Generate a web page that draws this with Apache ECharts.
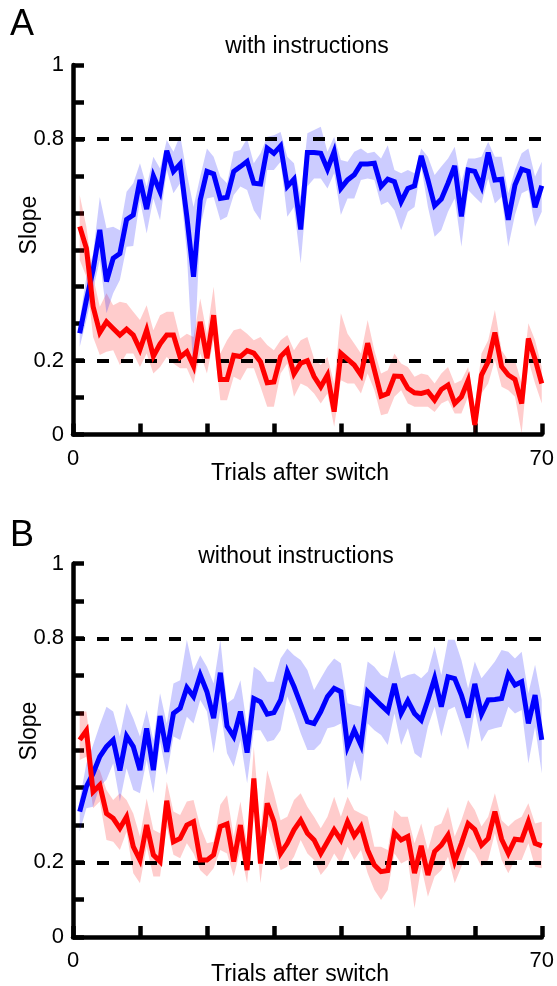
<!DOCTYPE html>
<html>
<head>
<meta charset="utf-8">
<script src="https://cdn.jsdelivr.net/npm/echarts@6/dist/echarts.min.js"></script>
<style>
  html, body { margin: 0; padding: 0; background: #fff; }
  #chart { width: 557px; height: 986px; }
</style>
</head>
<body>
<div id="chart"></div>
<script>
// trial numbers after the switch
const trials = Array.from({ length: 70 }, (_, i) => i + 1);

// panel A, with instructions
const blueWithMean = [0.274,0.364,0.445,0.554,0.414,0.477,0.490,0.582,0.594,0.689,0.610,0.700,0.657,0.768,0.712,0.732,0.590,0.427,0.635,0.712,0.705,0.639,0.642,0.712,0.725,0.739,0.680,0.678,0.775,0.761,0.781,0.671,0.691,0.555,0.763,
  0.763,0.761,0.718,0.766,0.666,0.689,0.703,0.732,0.732,0.734,0.671,0.691,0.684,0.630,0.666,0.673,0.754,0.689,0.619,0.637,0.680,0.727,0.590,0.716,0.712,0.671,0.763,0.689,0.691,0.581,0.675,0.718,0.712,0.615,0.673];
const blueWithUpper = [0.310,0.427,0.490,0.643,0.558,0.562,0.553,0.657,0.680,0.734,0.671,0.752,0.720,0.797,0.765,0.810,0.707,0.616,0.698,0.774,0.752,0.698,0.680,0.765,0.770,0.801,0.734,0.761,0.806,0.810,0.819,0.752,0.734,0.643,0.815,
  0.824,0.833,0.765,0.806,0.743,0.738,0.765,0.774,0.761,0.765,0.747,0.783,0.716,0.707,0.716,0.707,0.774,0.752,0.702,0.725,0.747,0.779,0.684,0.747,0.747,0.752,0.792,0.752,0.752,0.653,0.716,0.761,0.774,0.698,0.738];
const blueWithLower = [0.237,0.310,0.391,0.472,0.328,0.382,0.418,0.508,0.510,0.634,0.544,0.639,0.580,0.716,0.653,0.680,0.490,0.156,0.562,0.639,0.643,0.580,0.589,0.648,0.671,0.662,0.607,0.580,0.716,0.716,0.738,0.589,0.616,0.463,0.671,
  0.693,0.693,0.666,0.707,0.594,0.639,0.639,0.689,0.693,0.689,0.621,0.630,0.607,0.553,0.603,0.616,0.725,0.616,0.535,0.553,0.603,0.639,0.508,0.662,0.643,0.625,0.693,0.625,0.643,0.508,0.594,0.653,0.662,0.562,0.603];
const redWithMean = [0.563,0.504,0.346,0.276,0.305,0.287,0.269,0.285,0.269,0.230,0.283,0.212,0.245,0.269,0.269,0.209,0.224,0.185,0.305,0.206,0.323,0.149,0.149,0.214,0.211,0.227,0.220,0.197,0.140,0.142,0.211,0.229,0.164,0.193,0.200,
  0.157,0.129,0.161,0.062,0.220,0.204,0.188,0.161,0.247,0.175,0.104,0.111,0.158,0.157,0.125,0.113,0.111,0.116,0.093,0.122,0.134,0.084,0.102,0.146,0.026,0.161,0.197,0.276,0.184,0.161,0.149,0.084,0.260,0.204,0.138];
const redWithUpper = [0.648,0.562,0.427,0.346,0.382,0.350,0.359,0.355,0.332,0.310,0.350,0.282,0.323,0.332,0.332,0.260,0.273,0.264,0.368,0.273,0.400,0.219,0.255,0.282,0.287,0.273,0.255,0.264,0.242,0.228,0.255,0.269,0.228,0.255,0.264,
  0.206,0.188,0.210,0.138,0.328,0.273,0.246,0.219,0.310,0.228,0.165,0.174,0.219,0.192,0.183,0.156,0.165,0.161,0.138,0.165,0.183,0.138,0.147,0.183,0.075,0.219,0.255,0.337,0.228,0.201,0.201,0.138,0.301,0.255,0.183];
const redWithLower = [0.472,0.427,0.264,0.215,0.224,0.228,0.188,0.219,0.219,0.183,0.219,0.165,0.183,0.210,0.192,0.179,0.179,0.138,0.219,0.165,0.255,0.093,0.093,0.156,0.147,0.179,0.179,0.129,0.075,0.075,0.165,0.192,0.102,0.138,0.129,
  0.111,0.084,0.111,0.021,0.147,0.138,0.138,0.111,0.165,0.120,0.052,0.057,0.102,0.120,0.084,0.075,0.075,0.075,0.061,0.084,0.093,0.057,0.057,0.102,0.000,0.111,0.138,0.201,0.129,0.120,0.102,0.003,0.201,0.138,0.084];

// panel B, without instructions
const blueWithoutMean = [0.336,0.403,0.438,0.483,0.510,0.528,0.446,0.538,0.510,0.447,0.559,0.447,0.592,0.496,0.599,0.613,0.668,0.644,0.702,0.657,0.586,0.708,0.565,0.537,0.604,0.494,0.639,0.630,0.597,0.601,0.635,0.711,0.671,0.624,0.577,
  0.572,0.604,0.644,0.666,0.657,0.510,0.554,0.514,0.657,0.639,0.621,0.604,0.678,0.599,0.633,0.599,0.581,0.635,0.693,0.617,0.697,0.692,0.648,0.588,0.678,0.597,0.635,0.636,0.639,0.704,0.675,0.684,0.572,0.648,0.528];
const blueWithoutUpper = [0.367,0.465,0.514,0.568,0.617,0.604,0.537,0.626,0.586,0.537,0.608,0.528,0.653,0.572,0.679,0.688,0.796,0.715,0.755,0.724,0.679,0.796,0.626,0.639,0.688,0.563,0.724,0.711,0.684,0.684,0.746,0.773,0.755,0.742,0.715,
  0.662,0.693,0.724,0.746,0.733,0.626,0.621,0.617,0.738,0.724,0.702,0.693,0.769,0.693,0.702,0.706,0.693,0.711,0.778,0.702,0.796,0.796,0.742,0.666,0.738,0.693,0.715,0.738,0.769,0.764,0.746,0.764,0.653,0.729,0.635];
const blueWithoutLower = [0.282,0.345,0.349,0.403,0.421,0.465,0.363,0.452,0.394,0.385,0.474,0.385,0.523,0.434,0.537,0.528,0.590,0.572,0.635,0.604,0.492,0.608,0.492,0.456,0.528,0.412,0.554,0.554,0.523,0.528,0.554,0.644,0.599,0.546,0.501,
  0.501,0.519,0.559,0.563,0.572,0.394,0.474,0.416,0.572,0.554,0.541,0.514,0.599,0.514,0.559,0.492,0.479,0.563,0.617,0.537,0.608,0.617,0.563,0.501,0.608,0.523,0.554,0.559,0.563,0.617,0.599,0.608,0.465,0.563,0.438];
const redWithoutMean = [0.528,0.553,0.389,0.407,0.331,0.318,0.291,0.322,0.242,0.206,0.300,0.220,0.202,0.365,0.255,0.264,0.300,0.309,0.206,0.206,0.220,0.296,0.303,0.202,0.300,0.179,0.425,0.197,0.358,0.309,0.224,0.251,0.287,0.313,0.278,
  0.260,0.224,0.255,0.287,0.260,0.309,0.271,0.296,0.233,0.193,0.175,0.178,0.279,0.260,0.269,0.171,0.244,0.166,0.229,0.246,0.273,0.202,0.251,0.304,0.288,0.246,0.264,0.336,0.262,0.224,0.262,0.260,0.309,0.251,0.244];
const redWithoutUpper = [0.604,0.604,0.461,0.447,0.394,0.367,0.385,0.367,0.331,0.269,0.371,0.287,0.278,0.416,0.336,0.327,0.363,0.367,0.296,0.251,0.255,0.354,0.380,0.269,0.363,0.251,0.510,0.287,0.447,0.385,0.313,0.322,0.367,0.385,0.349,
  0.322,0.291,0.322,0.376,0.322,0.376,0.340,0.331,0.322,0.242,0.242,0.233,0.340,0.322,0.322,0.251,0.304,0.233,0.296,0.304,0.349,0.269,0.313,0.367,0.340,0.296,0.322,0.385,0.313,0.296,0.313,0.322,0.358,0.304,0.309];
const redWithoutLower = [0.474,0.483,0.345,0.363,0.260,0.255,0.233,0.282,0.171,0.144,0.242,0.162,0.162,0.296,0.220,0.211,0.251,0.224,0.179,0.162,0.184,0.233,0.224,0.162,0.233,0.144,0.340,0.144,0.296,0.242,0.179,0.188,0.215,0.260,0.224,
  0.206,0.166,0.188,0.224,0.197,0.242,0.206,0.233,0.171,0.126,0.099,0.126,0.224,0.197,0.206,0.077,0.188,0.108,0.162,0.179,0.215,0.144,0.188,0.242,0.224,0.188,0.206,0.278,0.206,0.171,0.206,0.206,0.251,0.188,0.184];

const referenceLevels = [0.8, 0.2];
const yLabelShown = { 0: '0', 2: '0.2', 8: '0.8', 10: '1' };

const FONT = '"Liberation Sans", Arial, sans-serif';
const BLUE = '#0000ff';
const RED = '#ff0000';

const chart = echarts.init(document.getElementById('chart'), null, { renderer: 'canvas' });

const pairs = (vals) => vals.map((v, i) => [trials[i], v]);

const xAxisFor = (idx) => ({
  type: 'value',
  gridIndex: idx,
  min: 0,
  max: 70,
  interval: 10,
  axisLine: { lineStyle: { color: '#000', width: 4.5 } },
  axisTick: { inside: true, length: 11, lineStyle: { color: '#000', width: 4.5 } },
  axisLabel: {
    margin: 13,
    color: '#000',
    fontFamily: FONT,
    fontSize: 22,
    formatter: (v) => (v === 0 || v === 70 ? String(v) : ''),
  },
  splitLine: { show: false },
});

const yAxisFor = (idx) => ({
  type: 'value',
  gridIndex: idx,
  min: 0,
  max: 1,
  interval: 0.1,
  axisLine: { lineStyle: { color: '#000', width: 4.5 } },
  axisTick: { inside: true, length: 11, lineStyle: { color: '#000', width: 4.5 } },
  axisLabel: {
    margin: 9,
    color: '#000',
    fontFamily: FONT,
    fontSize: 22,
    formatter: (v) => yLabelShown[Math.round(v * 10)] || '',
  },
  splitLine: { show: false },
});

// shaded band between lower and upper, drawn as one polygon through the axis scales
const band = (idx, lower, upper, fill, extra) => Object.assign({
  type: 'custom',
  xAxisIndex: idx,
  yAxisIndex: idx,
  silent: true,
  clip: true,
  z: 1,
  data: trials.map((t, i) => [t, lower[i], upper[i]]),
  encode: { x: 0, y: [1, 2] },
  renderItem: (params, api) => {
    if (params.dataIndex !== 0) return;
    const top = upper.map((u, i) => api.coord([trials[i], u]));
    const bottom = lower.map((l, i) => api.coord([trials[i], l])).reverse();
    return {
      type: 'polygon',
      shape: { points: top.concat(bottom) },
      style: { fill, stroke: null },
    };
  },
}, extra || {});

const meanLine = (idx, vals, color) => ({
  type: 'line', xAxisIndex: idx, yAxisIndex: idx,
  data: pairs(vals), symbol: 'none', silent: true, z: 3,
  lineStyle: { color, width: 5, join: 'miter', miterLimit: 4 },
});

const dashed = {
  markLine: {
    silent: true,
    z: 2,
    symbol: ['none', 'none'],
    label: { show: false },
    lineStyle: { color: '#000', width: 4, type: [12, 12] },
    data: referenceLevels.map((y) => ({ yAxis: y })),
  },
};

const txt = (text, x, y, size, extra) => Object.assign({
  type: 'text', x, y, silent: true,
  style: { text, fill: '#000', font: size + 'px ' + FONT, align: 'center', verticalAlign: 'middle' },
}, extra || {});

chart.setOption({
  animation: false,
  backgroundColor: '#fff',
  grid: [
    { left: 73, right: 11, top: 65, height: 369.5 },
    { left: 73, right: 11, top: 563.7, height: 373.3 },
  ],
  xAxis: [xAxisFor(0), xAxisFor(1)],
  yAxis: [yAxisFor(0), yAxisFor(1)],
  series: [
    band(0, redWithLower, redWithUpper, 'rgba(255,0,0,0.2)'),
    band(0, blueWithLower, blueWithUpper, 'rgba(0,0,255,0.2)', dashed),
    meanLine(0, blueWithMean, BLUE),
    meanLine(0, redWithMean, RED),
    band(1, redWithoutLower, redWithoutUpper, 'rgba(255,0,0,0.2)'),
    band(1, blueWithoutLower, blueWithoutUpper, 'rgba(0,0,255,0.2)', dashed),
    meanLine(1, blueWithoutMean, BLUE),
    meanLine(1, redWithoutMean, RED),
  ],
  graphic: [
    txt('A', 22, 25, 36),
    txt('with instructions', 307, 47, 23),
    txt('Slope', 30, 225, 23, { rotation: Math.PI / 2 }),
    txt('Trials after switch', 300, 474, 23),
    txt('B', 22, 536, 36),
    txt('without instructions', 296, 557, 23),
    txt('Slope', 30, 731, 23, { rotation: Math.PI / 2 }),
    txt('Trials after switch', 300, 975, 23),
  ],
});
</script>
</body>
</html>
